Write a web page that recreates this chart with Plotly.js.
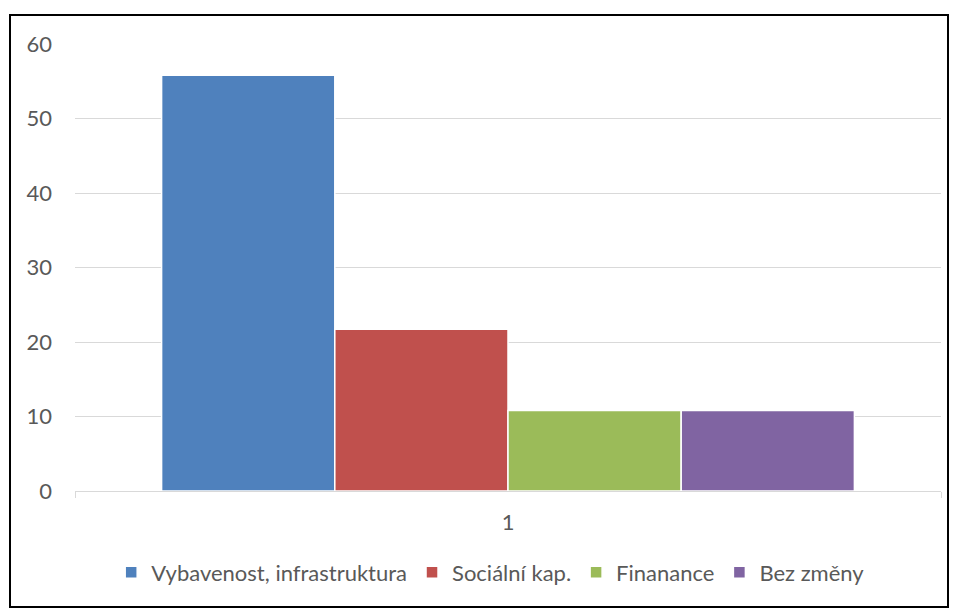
<!DOCTYPE html>
<html>
<head>
<meta charset="utf-8">
<script src="https://cdn.plot.ly/plotly-3.0.1.min.js"></script>
<style>
  html, body { margin: 0; padding: 0; background: #fff; }
  #wrap { position: relative; width: 955px; height: 608px; }
  #chart { position: absolute; left: 0; top: 0; width: 955px; height: 608px; }
  #frame { position: absolute; left: 9px; top: 14px; width: 936px; height: 590px; border: 2px solid #000; pointer-events: none; }
</style>
</head>
<body>
<div id="wrap">
  <div id="chart"></div>
  <div id="frame"></div>
</div>
<script>
const categories = ["1"];
const seriesNames = ["Vybavenost, infrastruktura", "Sociální kap.", "Finanance", "Bez změny"];
const seriesValues = [[55.8], [21.7], [10.8], [10.8]];
const seriesColors = ["#4F81BD", "#C0504D", "#9BBB59", "#8064A2"];
const yTicks = [0, 10, 20, 30, 40, 50, 60];

const traces = seriesNames.map((name, i) => ({
  type: "bar",
  name: name,
  x: categories,
  y: seriesValues[i],
  marker: { color: seriesColors[i], line: { color: "#ffffff", width: 1.5 } },
  hoverinfo: "none"
}));

const font = { family: "Lato, 'Open Sans', sans-serif", size: 22, color: "#595959" };

const layout = {
  width: 955, height: 608,
  margin: { l: 75, r: 14, t: 44, b: 117 },
  paper_bgcolor: "rgba(0,0,0,0)",
  plot_bgcolor: "#ffffff",
  font: font,
  barmode: "group",
  bargap: 0.2,
  bargroupgap: 0,
  showlegend: true,
  legend: {
    orientation: "h", x: 0.48, xanchor: "center", y: -0.135, yanchor: "top",
    font: font, traceorder: "normal", itemwidth: 30
  },
  xaxis: {
    type: "category",
    showgrid: false,
    showline: true, linecolor: "#d9d9d9", linewidth: 1,
    ticks: "outside", tickson: "boundaries", ticklen: 6, tickcolor: "#d9d9d9",
    ticklabelstandoff: 12,
    tickfont: font, zeroline: false
  },
  yaxis: {
    range: [0, 60],
    tickvals: yTicks,
    ticktext: yTicks.map(String),
    showgrid: true, gridcolor: "#d9d9d9", gridwidth: 1,
    zeroline: false, showline: false,
    ticks: "", ticklabelstandoff: 22,
    tickfont: font
  }
};

Plotly.newPlot("chart", traces, layout, { displayModeBar: false, staticPlot: true });
</script>
</body>
</html>
